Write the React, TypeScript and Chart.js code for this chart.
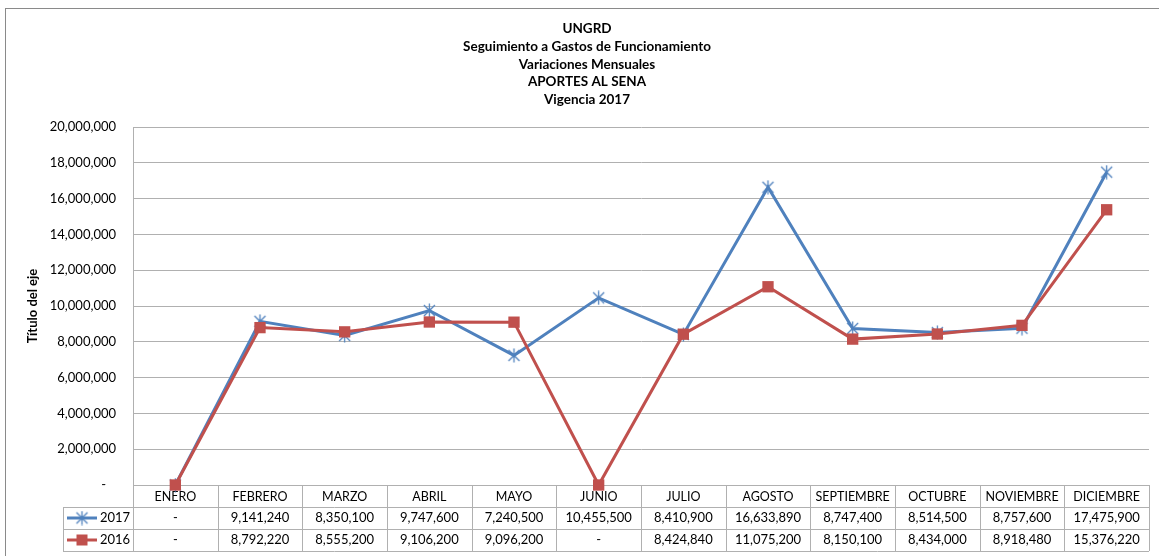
import React, { useEffect, useRef } from 'react';
import { Chart, registerables } from 'chart.js';
Chart.register(...registerables);

const categories = ['ENERO', 'FEBRERO', 'MARZO', 'ABRIL', 'MAYO', 'JUNIO', 'JULIO', 'AGOSTO', 'SEPTIEMBRE', 'OCTUBRE', 'NOVIEMBRE', 'DICIEMBRE'];
const values2017 = [0, 9141240, 8350100, 9747600, 7240500, 10455500, 8410900, 16633890, 8747400, 8514500, 8757600, 17475900];
const values2016 = [0, 8792220, 8555200, 9106200, 9096200, 0, 8424840, 11075200, 8150100, 8434000, 8918480, 15376220];
const seriesLabels = ['2017', '2016'];
const titleLines = ['UNGRD', 'Seguimiento a Gastos de Funcionamiento', 'Variaciones Mensuales', 'APORTES AL SENA', 'Vigencia 2017'];
const yAxisTitle = 'Título del eje';
const yMin = 0;
const yMax = 20000000;
const yStep = 2000000;

const BLUE = '#4F81BD';
const RED = '#C0504D';
const GRID = '#b0b0b0';
const FONT = 'Lato, "Open Sans", sans-serif';

function fmt(v: number): string {
  if (v === 0) return '-';
  return v.toLocaleString('en-US');
}

function makeStar(color: string): HTMLCanvasElement {
  const c = document.createElement('canvas');
  c.width = 15;
  c.height = 15;
  const g = c.getContext('2d')!;
  g.strokeStyle = color;
  g.lineWidth = 1.3;
  g.beginPath();
  g.moveTo(2, 2); g.lineTo(13, 13);
  g.moveTo(13, 2); g.lineTo(2, 13);
  g.moveTo(7.5, 0.5); g.lineTo(7.5, 14.5);
  g.stroke();
  return c;
}

export default function App() {
  const ref = useRef<HTMLCanvasElement>(null);
  useEffect(() => {
    document.body.style.margin = '0';
    const star = makeStar(BLUE);
    const seriesValues = [values2017, values2016];
    const seriesColors = [BLUE, RED];

    const decor = {
      id: 'decor',
      beforeDraw(chart: any) {
        const ctx = chart.ctx;
        ctx.save();
        ctx.fillStyle = '#fff';
        ctx.fillRect(0, 0, chart.width, chart.height);
        ctx.strokeStyle = '#8a8a8a';
        ctx.lineWidth = 1;
        ctx.strokeRect(5.5, 8.5, 1300, 700);
        // title
        ctx.fillStyle = '#000';
        ctx.font = 'bold 13.5px ' + FONT;
        ctx.textAlign = 'center';
        ctx.textBaseline = 'middle';
        titleLines.forEach((t, i) => ctx.fillText(t, 587, 29 + i * 17.7));
        // y title
        ctx.font = 'bold 13px ' + FONT;
        ctx.translate(33, (chart.chartArea.top + chart.chartArea.bottom) / 2);
        ctx.rotate(-Math.PI / 2);
        ctx.fillText(yAxisTitle, 0, 0);
        ctx.restore();
      },
      afterDraw(chart: any) {
        const ctx = chart.ctx;
        const { left, right, bottom } = chart.chartArea;
        const x = chart.scales.x;
        const n = categories.length;
        const colW = (right - left) / n;
        const rowH = 22;
        const legL = 63;
        ctx.save();
        ctx.strokeStyle = GRID;
        ctx.lineWidth = 1;
        ctx.beginPath();
        for (let r = 1; r <= 3; r++) {
          const y = Math.round(bottom + r * rowH) + 0.5;
          ctx.moveTo(legL, y); ctx.lineTo(right, y);
        }
        ctx.moveTo(legL + 0.5, bottom + rowH); ctx.lineTo(legL + 0.5, bottom + 3 * rowH);
        ctx.moveTo(left + 0.5, bottom); ctx.lineTo(left + 0.5, bottom + 3 * rowH);
        for (let i = 1; i <= n; i++) {
          const xx = Math.round(left + i * colW) + 0.5;
          ctx.moveTo(xx, bottom); ctx.lineTo(xx, bottom + 3 * rowH);
        }
        ctx.stroke();

        ctx.font = '13px ' + FONT;
        ctx.fillStyle = '#000';
        ctx.textBaseline = 'middle';
        seriesValues.forEach((vals, r) => {
          const cy = bottom + rowH * (r + 1) + rowH / 2;
          ctx.textAlign = 'center';
          vals.forEach((v, i) => {
            ctx.fillText(fmt(v), x.getPixelForValue(i), cy);
          });
          // legend key
          ctx.strokeStyle = seriesColors[r];
          ctx.lineWidth = 3;
          ctx.beginPath();
          ctx.moveTo(67, cy); ctx.lineTo(97, cy);
          ctx.stroke();
          if (r === 0) {
            ctx.drawImage(star, 82 - 7.5, cy - 7.5);
          } else {
            ctx.fillStyle = seriesColors[r];
            ctx.fillRect(82 - 5.5, cy - 5.5, 11, 11);
            ctx.fillStyle = '#000';
          }
          ctx.textAlign = 'left';
          ctx.fillText(seriesLabels[r], 100, cy);
        });
        ctx.restore();
      },
    };

    const chart = new Chart(ref.current!, {
      type: 'line',
      data: {
        labels: categories,
        datasets: [
          {
            label: seriesLabels[0],
            data: values2017,
            borderColor: BLUE,
            backgroundColor: BLUE,
            borderWidth: 3,
            pointStyle: star as any,
            pointRadius: 7,
            tension: 0,
            clip: false as any,
            order: 1,
          },
          {
            label: seriesLabels[1],
            data: values2016,
            borderColor: RED,
            backgroundColor: RED,
            borderWidth: 3,
            pointStyle: 'rect',
            pointRadius: 8,
            pointBorderWidth: 0,
            tension: 0,
            clip: false as any,
            order: 0,
          },
        ],
      },
      options: {
        responsive: false,
        animation: false,
        layout: { padding: { left: 0, top: 127, right: 6, bottom: 5 } },
        plugins: {
          legend: { display: false },
          title: { display: false },
          tooltip: { enabled: false },
        },
        scales: {
          x: {
            offset: true,
            grid: { display: false, drawTicks: false },
            border: { display: false },
            ticks: { font: { family: FONT, size: 12.5 }, color: '#000', padding: 4, maxRotation: 0, autoSkip: false },
            afterFit: (s: any) => { s.height = 66; },
          },
          y: {
            min: yMin,
            max: yMax,
            grid: { color: GRID, drawTicks: false },
            border: { display: true, color: GRID },
            ticks: {
              stepSize: yStep,
              padding: 17,
              color: '#000',
              font: { family: FONT, size: 13 },
              callback: (v: any) => (Number(v) === 0 ? '-   ' : Number(v).toLocaleString('en-US')),
            },
            afterFit: (s: any) => { s.width = 133; },
          },
        },
      },
      plugins: [decor],
    });
    return () => chart.destroy();
  }, []);
  return (
    <div style={{ width: 1159, height: 556 }}>
      <canvas ref={ref} width={1159} height={556} style={{ display: 'block' }} />
    </div>
  );
}
